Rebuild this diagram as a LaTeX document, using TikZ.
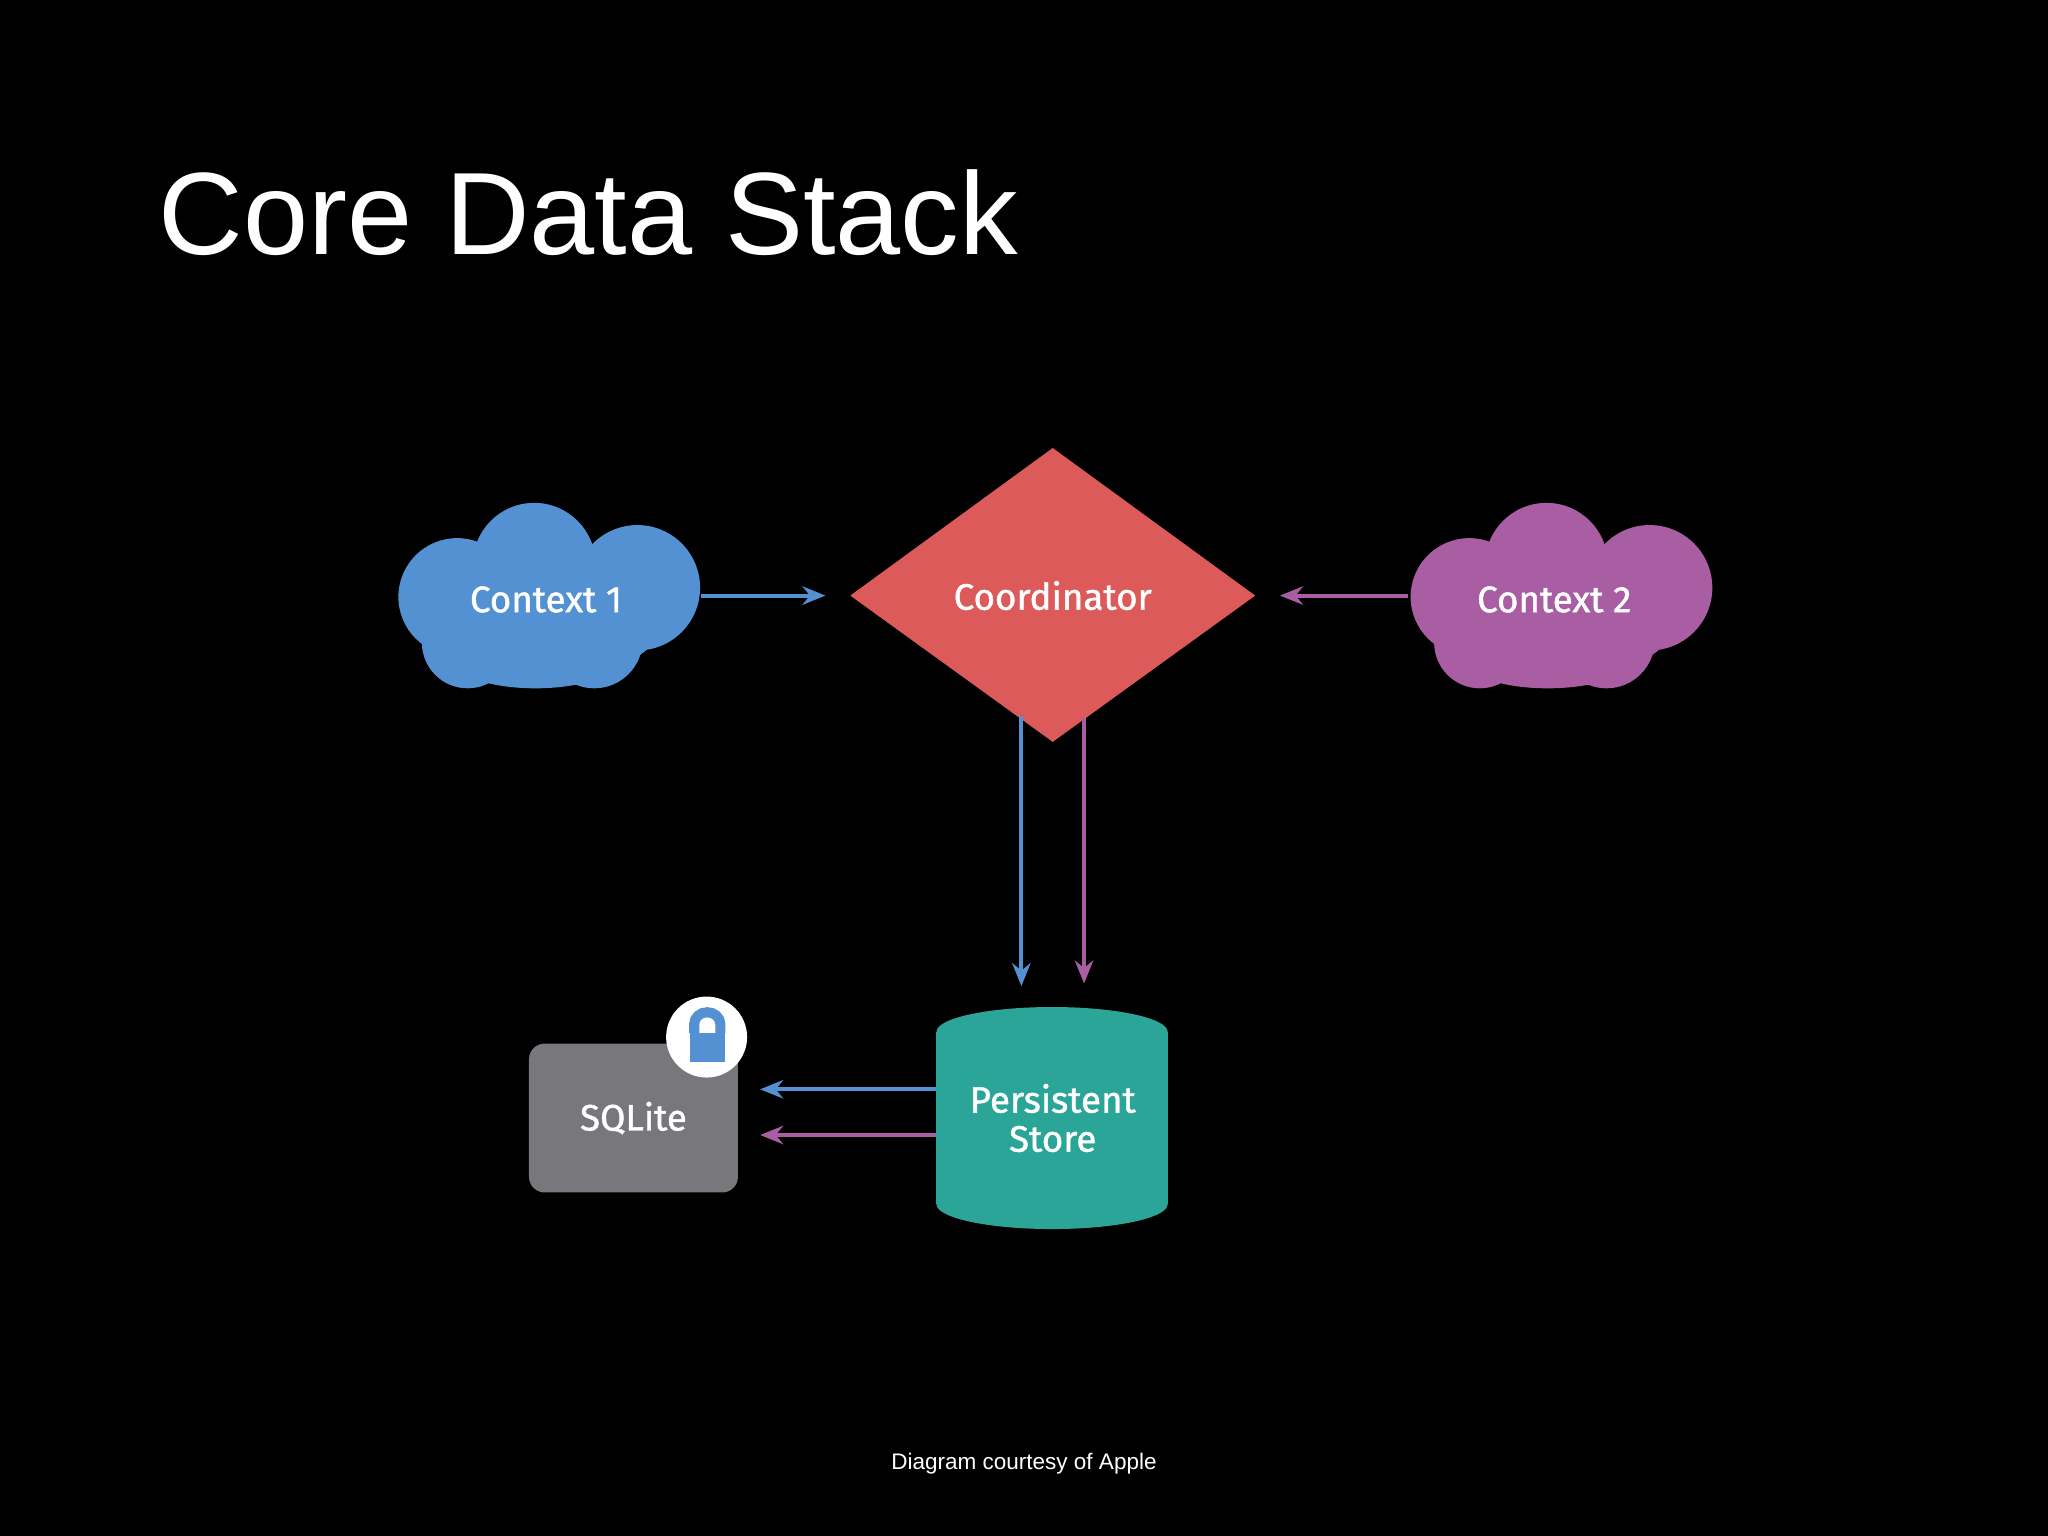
\documentclass[tikz,border=0pt]{standalone}
\usepackage{fontspec}
\setmainfont{Liberation Sans}
\newfontfamily\lab[FakeBold=1.2]{Fira Sans}
\usetikzlibrary{arrows.meta,shapes.geometric}
\definecolor{cblue}{HTML}{5391D3}
\definecolor{cpurp}{HTML}{A95EA3}
\definecolor{cred}{HTML}{DD5A5A}
\definecolor{cteal}{HTML}{2AA597}
\definecolor{cgray}{HTML}{78787C}
\begin{document}
\begin{tikzpicture}[x=0.01cm,y=-0.01cm,
  lbl/.style={text=white,font=\lab\fontsize{8}{9.5}\selectfont,align=center,inner sep=0},
  arr/.style={line width=0.9pt,-{Stealth[length=5pt,width=4pt]}},
  box/.style={minimum width=#1,inner sep=0},
  cloud/.pic={
    \fill (409,432) circle (47);
    \fill (350,457) circle (45);
    \fill (488,450) circle (48);
    \fill (358,492) circle (35);
    \fill (455,490) circle (37);
    \fill (420,470) ellipse (90 and 50);
    \fill (410,500) ellipse (70 and 27);
  }]
\fill[black] (0,0) rectangle (1568,1176);
\useasboundingbox (0,0) rectangle (1568,1176);
\node[anchor=base west,text=white,font=\fontsize{25.5}{30}\selectfont,inner sep=0] (title) at (121,195) {Core Data Stack};
% clouds
\pic[fill=cblue] at (0,0) {cloud};
\node[lbl] (c1t) at (418,459) {Context 1};
\node[box=2.32cm,minimum height=1.42cm] (c1) at (420,456) {};
\pic[fill=cpurp] at (775,0) {cloud};
\node[lbl] (c2t) at (1190,459) {Context 2};
\node[box=2.32cm,minimum height=1.42cm] (c2) at (1195,456) {};
% diamond
\fill[cred] (806,343) -- (961,456) -- (806,568) -- (651,456) -- cycle;
\node[lbl] (co) at (806,456) {Coordinator};
\coordinate (coL) at (632,456);
\coordinate (coR) at (980,456);
\coordinate (coB1) at (782,548);
\coordinate (coB2) at (830,550);
% cylinder
\fill[cteal] (717,790) rectangle (894,922);
\fill[cteal] (805.5,790) ellipse (88.5 and 19);
\fill[cteal] (805.5,922) ellipse (88.5 and 19);
\node[lbl] (ps) at (806,856) {Persistent\\[-1pt]Store};
\coordinate (psT1) at (782,755);
\coordinate (psT2) at (830,753);
\coordinate (psL1) at (717,834);
\coordinate (psL2) at (717,869);
% sqlite
\fill[cgray,rounded corners=0.12cm] (405,799) rectangle (565,913);
\node[lbl] (sq) at (485,856) {SQLite};
\coordinate (sqR1) at (582,834);
\coordinate (sqR2) at (582,869);
\fill[white] (541,794) circle (31);
\fill[cblue] (528,791) rectangle (555,813);
\draw[cblue,line width=2.2pt] (531.5,791) -- (531.5,784) arc (180:360:10 and 9) -- (551.5,791);
% arrows
\draw[arr,cblue] (c1.east) -- (coL);
\draw[arr,cpurp] (c2.west) -- (coR);
\draw[arr,cblue] (coB1) -- (psT1);
\draw[arr,cpurp] (coB2) -- (psT2);
\draw[arr,cblue] (psL1) -- (sqR1);
\draw[arr,cpurp] (psL2) -- (sqR2);
\node[text=white,font=\fontsize{4.9}{6}\selectfont,inner sep=0] (ft) at (784,1121) {Diagram courtesy of Apple};
\end{tikzpicture}
\end{document}
